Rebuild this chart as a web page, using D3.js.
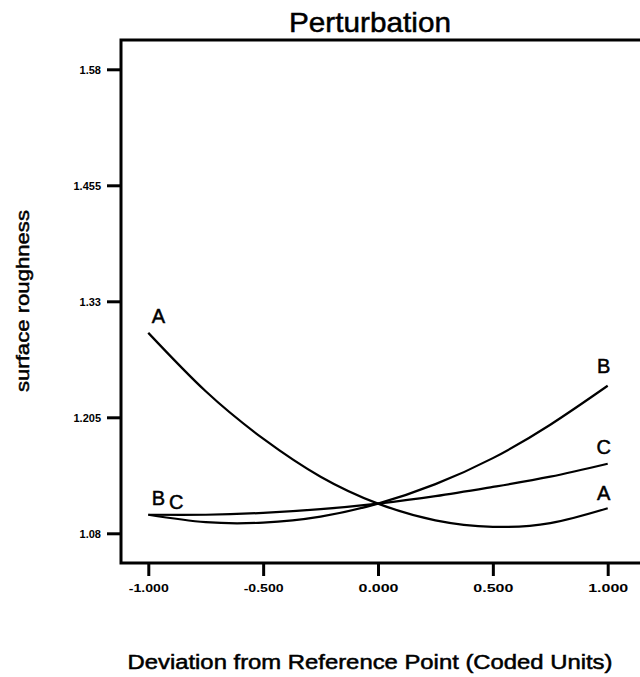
<!DOCTYPE html>
<html lang="en">
<head>
    <meta charset="UTF-8">
    <title>Perturbation</title>
    <style>
        body{
            margin: 0;
            background: #fff;
        }
        svg{
            display: block;
        }
        text{
            font-family: "Liberation Sans", Arial, sans-serif;
            fill: #000;
        }
        .heavy{
            stroke: #000;
            stroke-width: 0.5px;
        }
        .tick text{
            font-weight: bold;
        }
    </style>
    <script src="https://cdn.jsdelivr.net/npm/d3@7"></script>
</head>
<body>
<script>
    const width = 640
    const height = 677

    // coded deviation from the reference point
    const xs = [-1, -0.75, -0.5, -0.25, 0, 0.25, 0.5, 0.75, 1]
    // surface roughness
    const seriesA = [1.296, 1.233, 1.182, 1.141, 1.112, 1.094, 1.087, 1.091, 1.107]
    const seriesB = [1.100, 1.092, 1.0915, 1.098, 1.112, 1.133, 1.161, 1.197, 1.239]
    const seriesC = [1.100, 1.100, 1.102, 1.106, 1.112, 1.120, 1.130, 1.141, 1.155]

    const xTicks = [-1, -0.5, 0, 0.5, 1]
    const xTickLabels = ["-1.000", "-0.500", "0.000", "0.500", "1.000"]
    const yTicks = [1.08, 1.205, 1.33, 1.455, 1.58]
    const yTickLabels = ["1.08", "1.205", "1.33", "1.455", "1.58"]

    const series = [
        {name: "A", values: seriesA},
        {name: "B", values: seriesB},
        {name: "C", values: seriesC}
    ]

    // curve end labels: which series, which end, nudge in px
    const endLabels = [
        {name: "A", end: 0, dx: 10, dy: -10},
        {name: "B", end: 0, dx: 10, dy: -10},
        {name: "C", end: 0, dx: 28, dy: -6},
        {name: "B", end: 1, dx: -4, dy: -13},
        {name: "C", end: 1, dx: -4, dy: -10},
        {name: "A", end: 1, dx: -4, dy: -8}
    ]

    const frame = {left: 121, top: 40, right: 642, bottom: 563}

    const x = d3.scaleLinear().domain([-1, 1]).range([148.3, 607.7])
    const y = d3.scaleLinear().domain([1.08, 1.58]).range([533.3, 69.3])

    let svg = d3.select("body").append("svg")
        .attr("width", width)
        .attr("height", height)
        .attr("viewBox", `0 0 ${width} ${height}`)

    // title
    svg.append("text")
        .attr("class", "heavy")
        .attr("x", 370)
        .attr("y", 32)
        .attr("text-anchor", "middle")
        .style("font-size", "28px")
        .attr("textLength", 162)
        .attr("lengthAdjust", "spacingAndGlyphs")
        .text("Perturbation")

    // axes
    const xAxis = d3.axisBottom(x)
        .tickValues(xTicks)
        .tickFormat((d, i) => xTickLabels[i])
        .tickSize(13)
        .tickPadding(8)

    const yAxis = d3.axisLeft(y)
        .tickValues(yTicks)
        .tickFormat((d, i) => yTickLabels[i])
        .tickSize(14)
        .tickPadding(6)

    let gx = svg.append("g")
        .attr("transform", `translate(0,${frame.bottom})`)
        .call(xAxis)
    let gy = svg.append("g")
        .attr("transform", `translate(${frame.left},0)`)
        .call(yAxis)

    gx.select(".domain").remove()
    gy.select(".domain").remove()
    svg.selectAll(".tick line").attr("stroke", "#000").attr("stroke-width", 3)
    gx.selectAll(".tick text")
        .style("font-size", "11px")
        .attr("textLength", 40)
        .attr("lengthAdjust", "spacingAndGlyphs")
    gy.selectAll(".tick text")
        .style("font-size", "11px")
        .attr("dy", "0.35em")

    // frame: left, top and bottom edges
    svg.append("path")
        .attr("d", `M${frame.right},${frame.top}H${frame.left}V${frame.bottom}H${frame.right}`)
        .attr("fill", "none")
        .attr("stroke", "#000")
        .attr("stroke-width", 3)

    // curves
    const line = d3.line()
        .x((d, i) => x(xs[i]))
        .y(d => y(d))
        .curve(d3.curveNatural)

    svg.selectAll(".trace")
        .data(series)
        .enter()
        .append("path")
        .attr("class", "trace")
        .attr("d", d => line(d.values))
        .attr("fill", "none")
        .attr("stroke", "#000")
        .attr("stroke-width", 2.2)

    // curve labels
    const byName = {}
    series.forEach(s => byName[s.name] = s)

    svg.selectAll(".curveLabel")
        .data(endLabels)
        .enter()
        .append("text")
        .attr("class", "curveLabel heavy")
        .attr("x", d => x(d.end ? xs[xs.length - 1] : xs[0]) + d.dx)
        .attr("y", d => y(d.end ? byName[d.name].values[xs.length - 1] : byName[d.name].values[0]) + d.dy)
        .attr("text-anchor", "middle")
        .style("font-size", "20px")
        .text(d => d.name)

    // axis titles
    svg.append("text")
        .attr("class", "heavy")
        .attr("transform", "translate(29,301) rotate(-90)")
        .attr("text-anchor", "middle")
        .style("font-size", "19px")
        .attr("textLength", 182)
        .attr("lengthAdjust", "spacingAndGlyphs")
        .text("surface roughness")

    svg.append("text")
        .attr("class", "heavy")
        .attr("x", 370)
        .attr("y", 669)
        .attr("text-anchor", "middle")
        .style("font-size", "20px")
        .attr("textLength", 485)
        .attr("lengthAdjust", "spacingAndGlyphs")
        .text("Deviation from Reference Point (Coded Units)")
</script>
</body>
</html>
